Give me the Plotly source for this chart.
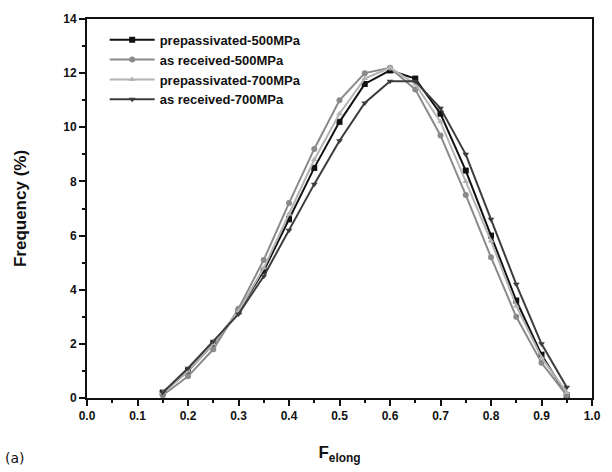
import plotly.graph_objects as go

x_vals = [0.15, 0.20, 0.25, 0.30, 0.35, 0.40, 0.45, 0.50, 0.55, 0.60, 0.65, 0.70, 0.75, 0.80, 0.85, 0.90, 0.95]

prepass_500 = [0.2, 1.0, 2.0, 3.2, 4.7, 6.6, 8.5, 10.2, 11.6, 12.1, 11.8, 10.5, 8.4, 6.0, 3.6, 1.6, 0.1]
asrec_500 = [0.1, 0.8, 1.8, 3.3, 5.1, 7.2, 9.2, 11.0, 12.0, 12.2, 11.4, 9.7, 7.5, 5.2, 3.0, 1.3, 0.1]
prepass_700 = [0.2, 1.0, 2.0, 3.2, 4.8, 6.8, 8.8, 10.5, 11.8, 12.2, 11.6, 10.2, 8.0, 5.8, 3.4, 1.5, 0.2]
asrec_700 = [0.2, 1.1, 2.1, 3.1, 4.5, 6.2, 7.9, 9.5, 10.9, 11.7, 11.7, 10.7, 9.0, 6.6, 4.2, 2.0, 0.4]

names = ["prepassivated-500MPa", "as received-500MPa", "prepassivated-700MPa", "as received-700MPa"]
series = [prepass_500, asrec_500, prepass_700, asrec_700]
colors = ["#111111", "#8a8a8a", "#b4b4b4", "#3c3c3c"]
symbols = ["square", "circle", "triangle-up", "triangle-down"]

fig = go.Figure()
for name, ys, c, s in zip(names, series, colors, symbols):
    fig.add_trace(go.Scatter(
        x=x_vals, y=ys, name=name, mode="lines+markers",
        line=dict(color=c, width=2),
        marker=dict(symbol=s, size=6, color=c),
    ))

font_family = "Liberation Sans, Arial, sans-serif"
fig.update_layout(
    width=612, height=472,
    margin=dict(l=87, r=11, t=19, b=74),
    paper_bgcolor="white", plot_bgcolor="white",
    font=dict(family=font_family, color="#111111"),
    showlegend=True,
    legend=dict(x=0.035, y=0.985, xanchor="left", yanchor="top",
                bgcolor="rgba(0,0,0,0)", borderwidth=0,
                font=dict(size=13, family=font_family, weight="bold"),
                tracegroupgap=0, itemwidth=45),
    xaxis=dict(
        range=[0, 1.0], tickmode="array",
        tickvals=[round(0.1 * i, 1) for i in range(11)],
        ticktext=[f"{0.1 * i:.1f}" for i in range(11)],
        ticks="outside", ticklen=6, tickwidth=2, tickcolor="#111",
        minor=dict(dtick=0.05, ticks="outside", ticklen=3, tickwidth=2, tickcolor="#111"),
        showline=True, linecolor="#111", linewidth=2, mirror=True,
        showgrid=False, zeroline=False,
        tickfont=dict(size=12, weight="bold"),
        title=dict(text="F<sub>elong</sub>", font=dict(size=17, weight="bold"), standoff=24),
    ),
    yaxis=dict(
        range=[0, 14], tickmode="array",
        tickvals=[0, 2, 4, 6, 8, 10, 12, 14],
        ticks="outside", ticklen=6, tickwidth=2, tickcolor="#111",
        minor=dict(dtick=1, ticks="outside", ticklen=3, tickwidth=2, tickcolor="#111"),
        showline=True, linecolor="#111", linewidth=2, mirror=True,
        showgrid=False, zeroline=False,
        tickfont=dict(size=12, weight="bold"),
        title=dict(text="Frequency (%)", font=dict(size=17, weight="bold"), standoff=32),
    ),
    annotations=[dict(text="(a)", x=0, y=0, xref="paper", yref="paper",
                      xshift=-84, yshift=-50, xanchor="left", yanchor="top",
                      showarrow=False, font=dict(size=14, family="DejaVu Sans, sans-serif"))],
)

fig.write_html("out.html")
